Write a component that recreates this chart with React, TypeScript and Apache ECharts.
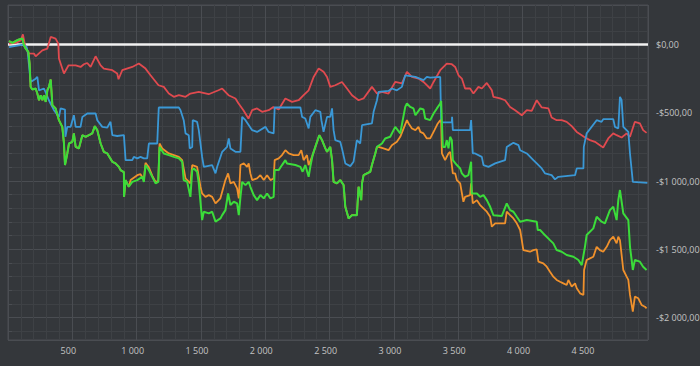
import React, { useEffect, useRef } from 'react';
import * as echarts from 'echarts';

const xRange = [0, 4975];
const yRange = [-2165, 290];
const zeroLine: [number, number][] = [[0, 0], [4975, 0]];

const red: [number, number][] = [
  [8, 7], [60, 12], [99, 31], [116, 75], [132, -5], [161, -64], [202, -66], [215, -86], [267, -42], [306, -29],
  [332, 56], [370, 44], [391, 7], [396, -102], [435, -212], [471, -152], [526, -152], [564, -164], [590, -144], [616, -135],
  [642, -164], [681, -86], [720, -152], [745, -176], [811, -188], [849, -212], [859, -254], [888, -188], [966, -164], [1017, -139],
  [1069, -176], [1108, -225], [1170, -298], [1211, -310], [1250, -359], [1289, -383], [1328, -371], [1380, -383], [1418, -359], [1483, -347],
  [1560, -364], [1636, -335], [1665, -322], [1714, -371], [1768, -395], [1791, -430], [1830, -481], [1869, -542], [1898, -481], [1936, -468],
  [1975, -493], [2026, -481], [2063, -457], [2104, -476], [2156, -395], [2208, -420], [2259, -408], [2298, -371], [2337, -335], [2376, -237],
  [2415, -176], [2453, -200], [2480, -237], [2505, -310], [2544, -298], [2596, -274], [2635, -322], [2674, -371], [2725, -408], [2764, -395],
  [2829, -310], [2868, -359], [2907, -347], [2958, -359], [3010, -274], [3062, -285], [3101, -200], [3140, -237], [3191, -249], [3230, -274],
  [3282, -322], [3308, -274], [3360, -188], [3411, -139], [3450, -144], [3476, -164], [3502, -225], [3528, -249], [3553, -322], [3592, -322],
  [3618, -359], [3657, -310], [3683, -322], [3722, -281], [3761, -335], [3773, -383], [3825, -395], [3864, -408], [3903, -457], [3942, -481],
  [3994, -518], [4033, -481], [4071, -486], [4110, -408], [4149, -461], [4201, -468], [4226, -534], [4265, -554], [4304, -554], [4343, -566],
  [4382, -598], [4421, -640], [4460, -664], [4485, -681], [4524, -700], [4563, -713], [4601, -737], [4627, -754], [4666, -688], [4705, -651],
  [4731, -664], [4770, -681], [4809, -651], [4835, -676], [4873, -566], [4912, -578], [4937, -627], [4964, -647]
];

const blue: [number, number][] = [
  [8, -18], [60, -10], [120, 0], [145, -18], [153, -54], [176, -275], [215, -250], [228, -237], [241, -335], [280, -322],
  [318, -408], [357, -481], [396, -530], [409, -468], [443, -476], [446, -676], [461, -603], [487, -603], [512, -518], [526, -603],
  [564, -603], [578, -530], [616, -505], [681, -505], [694, -554], [733, -603], [772, -608], [797, -566], [811, -664], [849, -670],
  [901, -664], [914, -847], [966, -847], [978, -823], [1005, -834], [1030, -823], [1056, -834], [1082, -834], [1095, -725], [1160, -725],
  [1172, -461], [1328, -461], [1341, -481], [1366, -554], [1380, -651], [1405, -664], [1413, -761], [1432, -750], [1436, -554], [1470, -566],
  [1483, -627], [1509, -823], [1522, -896], [1587, -883], [1613, -944], [1626, -896], [1665, -786], [1703, -750], [1716, -688], [1729, -761],
  [1768, -786], [1807, -786], [1820, -530], [1846, -554], [1898, -627], [1936, -640], [2001, -603], [2026, -640], [2065, -651], [2073, -461],
  [2273, -461], [2286, -530], [2311, -542], [2337, -615], [2350, -530], [2389, -481], [2428, -493], [2436, -554], [2453, -640], [2480, -530],
  [2505, -530], [2519, -468], [2531, -627], [2544, -700], [2583, -713], [2596, -761], [2622, -871], [2661, -891], [2686, -859], [2712, -700],
  [2738, -725], [2752, -591], [2829, -578], [2842, -493], [2868, -408], [2880, -347], [2958, -340], [2984, -322], [3023, -335], [3062, -310],
  [3088, -225], [3167, -237], [3230, -261], [3256, -237], [3282, -242], [3360, -237], [3367, -570], [3450, -570], [3452, -530], [3458, -627],
  [3592, -627], [3600, -554], [3613, -798], [3631, -798], [3683, -823], [3696, -883], [3735, -896], [3787, -871], [3864, -847], [3877, -750],
  [3929, -720], [3968, -737], [3981, -774], [4033, -798], [4084, -847], [4110, -871], [4149, -908], [4175, -944], [4226, -957], [4252, -988],
  [4278, -969], [4408, -957], [4421, -908], [4473, -908], [4476, -750], [4498, -651], [4576, -554], [4614, -566], [4627, -547], [4705, -547],
  [4718, -603], [4744, -615], [4757, -383], [4770, -408], [4783, -603], [4822, -640], [4835, -798], [4857, -1006], [4970, -1013]
];

const green: [number, number][] = [
  [8, 26], [34, 12], [60, 26], [85, 37], [112, 44], [124, -5], [137, -29], [158, -54], [168, -139], [176, -310],
  [189, -329], [215, -322], [228, -359], [241, -408], [254, -371], [267, -408], [280, -371], [293, -420], [306, -335], [318, -310],
  [332, -256], [345, -444], [370, -468], [396, -554], [422, -603], [435, -725], [443, -883], [461, -798], [474, -725], [500, -713],
  [512, -651], [526, -750], [551, -761], [578, -664], [603, -676], [629, -664], [655, -651], [675, -598], [694, -627], [720, -725],
  [745, -786], [772, -798], [811, -859], [836, -871], [862, -896], [875, -920], [901, -935], [902, -1116], [914, -993], [939, -1042],
  [966, -1006], [1005, -993], [1043, -969], [1056, -1006], [1069, -883], [1095, -920], [1121, -969], [1147, -1017], [1168, -1006], [1178, -750],
  [1211, -798], [1250, -810], [1289, -823], [1328, -834], [1354, -859], [1366, -993], [1393, -1006], [1418, -1116], [1432, -920], [1444, -908],
  [1470, -932], [1483, -1017], [1509, -1286], [1522, -1225], [1561, -1237], [1587, -1225], [1613, -1298], [1651, -1274], [1665, -1250], [1690, -1213],
  [1711, -1091], [1729, -1176], [1755, -1152], [1781, -1164], [1794, -1250], [1807, -1116], [1820, -1006], [1846, -1030], [1871, -1006], [1884, -1042],
  [1910, -1103], [1936, -1140], [1962, -1103], [1988, -1127], [2014, -1091], [2040, -1127], [2065, -1116], [2073, -920], [2104, -920], [2130, -883],
  [2156, -847], [2169, -871], [2234, -883], [2273, -896], [2290, -932], [2311, -883], [2337, -969], [2350, -896], [2368, -810], [2389, -750],
  [2420, -664], [2441, -700], [2467, -761], [2480, -786], [2505, -750], [2519, -847], [2531, -1006], [2557, -1017], [2583, -993], [2609, -1030],
  [2622, -1189], [2648, -1274], [2674, -1250], [2712, -1250], [2725, -1042], [2746, -1140], [2752, -1017], [2764, -957], [2816, -932], [2829, -883],
  [2855, -798], [2868, -750], [2907, -725], [2932, -688], [2971, -676], [3010, -603], [3049, -651], [3088, -457], [3101, -432], [3127, -457],
  [3152, -468], [3167, -518], [3205, -468], [3230, -476], [3243, -542], [3282, -554], [3308, -505], [3334, -468], [3360, -432], [3367, -413],
  [3380, -750], [3398, -750], [3411, -700], [3424, -761], [3437, -676], [3450, -700], [3458, -847], [3489, -883], [3515, -908], [3528, -944],
  [3553, -969], [3579, -957], [3600, -859], [3605, -1091], [3645, -1091], [3670, -1116], [3696, -1103], [3722, -1140], [3748, -1189], [3773, -1250],
  [3838, -1257], [3877, -1164], [3903, -1213], [3929, -1225], [3955, -1262], [3981, -1298], [4033, -1286], [4110, -1298], [4118, -1359], [4136, -1359],
  [4161, -1384], [4213, -1433], [4239, -1457], [4265, -1506], [4304, -1518], [4343, -1542], [4395, -1555], [4434, -1579], [4460, -1616], [4485, -1482],
  [4498, -1396], [4550, -1347], [4576, -1262], [4614, -1298], [4640, -1310], [4679, -1213], [4705, -1189], [4731, -1286], [4744, -1140], [4757, -1066],
  [4783, -1237], [4822, -1286], [4835, -1482], [4848, -1579], [4857, -1652], [4873, -1579], [4912, -1591], [4937, -1628], [4964, -1652]
];

const orange: [number, number][] = [
  [8, 26], [34, 12], [60, 26], [85, 37], [112, 44], [124, -5], [137, -29], [158, -54], [168, -139], [176, -310],
  [189, -329], [215, -322], [228, -359], [241, -408], [254, -371], [267, -408], [280, -371], [293, -420], [306, -335], [318, -310],
  [332, -256], [345, -444], [370, -468], [396, -554], [422, -603], [435, -725], [443, -883], [461, -798], [474, -725], [500, -713],
  [512, -651], [526, -750], [551, -761], [578, -664], [603, -676], [629, -664], [655, -651], [675, -598], [694, -627], [720, -725],
  [745, -786], [772, -798], [811, -859], [836, -871], [862, -896], [875, -920], [901, -935], [902, -1116], [914, -993], [939, -1042],
  [953, -993], [1005, -957], [1030, -950], [1056, -990], [1069, -867], [1095, -900], [1121, -960], [1147, -1006], [1168, -1000], [1178, -725],
  [1199, -761], [1250, -798], [1289, -810], [1328, -823], [1354, -847], [1380, -981], [1418, -1017], [1432, -883], [1470, -896], [1496, -1042],
  [1509, -1091], [1535, -1116], [1561, -1103], [1587, -1116], [1613, -1164], [1651, -1127], [1690, -993], [1711, -944], [1729, -1017], [1755, -1006],
  [1781, -1054], [1794, -1127], [1807, -883], [1833, -871], [1859, -896], [1871, -871], [1884, -944], [1898, -993], [1936, -981], [1962, -957],
  [1988, -993], [2014, -957], [2040, -993], [2065, -981], [2073, -847], [2104, -834], [2130, -810], [2156, -774], [2182, -798], [2220, -810],
  [2259, -810], [2280, -774], [2298, -847], [2324, -810], [2337, -883], [2363, -823], [2389, -750], [2420, -664], [2441, -700], [2467, -761],
  [2480, -786], [2505, -750], [2519, -847], [2531, -1006], [2557, -1017], [2583, -993], [2609, -1030], [2622, -1189], [2648, -1274], [2674, -1250],
  [2712, -1250], [2725, -1042], [2746, -1140], [2752, -1017], [2764, -957], [2816, -932], [2829, -883], [2855, -798], [2868, -750], [2880, -750],
  [2919, -761], [2958, -774], [2984, -737], [3023, -713], [3049, -676], [3101, -554], [3114, -578], [3140, -615], [3167, -627], [3191, -603],
  [3205, -640], [3230, -651], [3256, -688], [3282, -688], [3315, -627], [3341, -578], [3360, -554], [3367, -560], [3373, -798], [3398, -847],
  [3424, -798], [3437, -786], [3458, -944], [3476, -944], [3489, -993], [3515, -1017], [3540, -1152], [3553, -1116], [3592, -1103], [3600, -1017],
  [3613, -1164], [3645, -1140], [3670, -1176], [3696, -1200], [3722, -1225], [3748, -1262], [3761, -1335], [3787, -1310], [3864, -1310], [3877, -1225],
  [3903, -1250], [3929, -1274], [3955, -1310], [3981, -1359], [3994, -1433], [4006, -1506], [4058, -1518], [4084, -1506], [4110, -1500], [4123, -1591],
  [4161, -1603], [4188, -1628], [4213, -1665], [4239, -1701], [4265, -1725], [4291, -1738], [4317, -1750], [4343, -1762], [4356, -1725], [4382, -1774],
  [4408, -1750], [4421, -1786], [4447, -1823], [4473, -1835], [4478, -1652], [4498, -1579], [4524, -1567], [4550, -1555], [4576, -1482], [4601, -1506],
  [4627, -1518], [4654, -1482], [4679, -1433], [4705, -1408], [4731, -1457], [4744, -1408], [4757, -1433], [4783, -1652], [4809, -1701], [4822, -1725],
  [4835, -1835], [4857, -1957], [4873, -1847], [4899, -1859], [4925, -1908], [4951, -1921], [4964, -1933]
];

const groupSep = (n: number) => String(n).replace(/\B(?=(\d{3})+(?!\d))/g, ' ');
const fmtMoney = (v: number) => {
  const a = Math.abs(Math.round(v));
  return (v < 0 ? '-' : '') + '$' + groupSep(a) + ',00';
};

export default function App() {
  const ref = useRef<HTMLDivElement>(null);
  useEffect(() => {
    document.body.style.margin = '0';
    const chart = echarts.init(ref.current!, undefined, { renderer: 'svg' });
    const gridMajor = '#4a4d52';
    const gridMinor = '#3e4145';
    const labelStyle = { color: '#c3c3c3', fontSize: 9, fontFamily: 'Open Sans' };
    const mk = (name: string, data: [number, number][], color: string, width: number, z: number) => ({
      name, type: 'line', data, showSymbol: false, symbol: 'none', z,
      lineStyle: { color, width }, itemStyle: { color }, silent: true,
    });
    chart.setOption({
      animation: false,
      backgroundColor: '#34373b',
      grid: {
        left: 8, right: 52, top: 5, bottom: 26, show: true, borderColor: gridMajor, borderWidth: 1,
        backgroundColor: 'transparent', containLabel: false, outerBoundsMode: 'none',
      },
      xAxis: {
        type: 'value', min: xRange[0], max: xRange[1], splitNumber: 10,
        axisLine: { show: false },
        axisTick: { show: true, length: 3, lineStyle: { color: gridMajor } },
        minorTick: { show: true, splitNumber: 5, length: 3, lineStyle: { color: gridMajor } },
        splitLine: { show: true, lineStyle: { color: gridMajor, width: 1 } },
        minorSplitLine: { show: true, lineStyle: { color: gridMinor, width: 1 } },
        axisLabel: { ...labelStyle, margin: 6, showMinLabel: false, showMaxLabel: false, padding: [0, 8, 0, 0], formatter: (v: number) => groupSep(v) },
      },
      yAxis: {
        type: 'value', position: 'right', min: yRange[0], max: yRange[1], splitNumber: 5,
        axisLine: { show: false },
        axisTick: { show: true, length: 4, lineStyle: { color: gridMajor } },
        minorTick: { show: true, splitNumber: 5, length: 4, lineStyle: { color: gridMajor } },
        splitLine: { show: true, lineStyle: { color: gridMajor, width: 1 } },
        minorSplitLine: { show: true, lineStyle: { color: gridMinor, width: 1 } },
        axisLabel: { ...labelStyle, margin: 8, align: 'left', showMinLabel: false, showMaxLabel: false, formatter: fmtMoney },
      },
      series: [
        mk('zero', zeroLine, '#f2f2f2', 2.5, 1),
        mk('red', red, '#e04a4f', 1.8, 2),
        mk('blue', blue, '#3a98d6', 1.8, 3),
        mk('orange', orange, '#f0912c', 1.8, 4),
        mk('green', green, '#3bdc3a', 2, 5),
      ],
    });
    return () => chart.dispose();
  }, []);
  return <div ref={ref} style={{ width: 700, height: 366 }} />;
}
